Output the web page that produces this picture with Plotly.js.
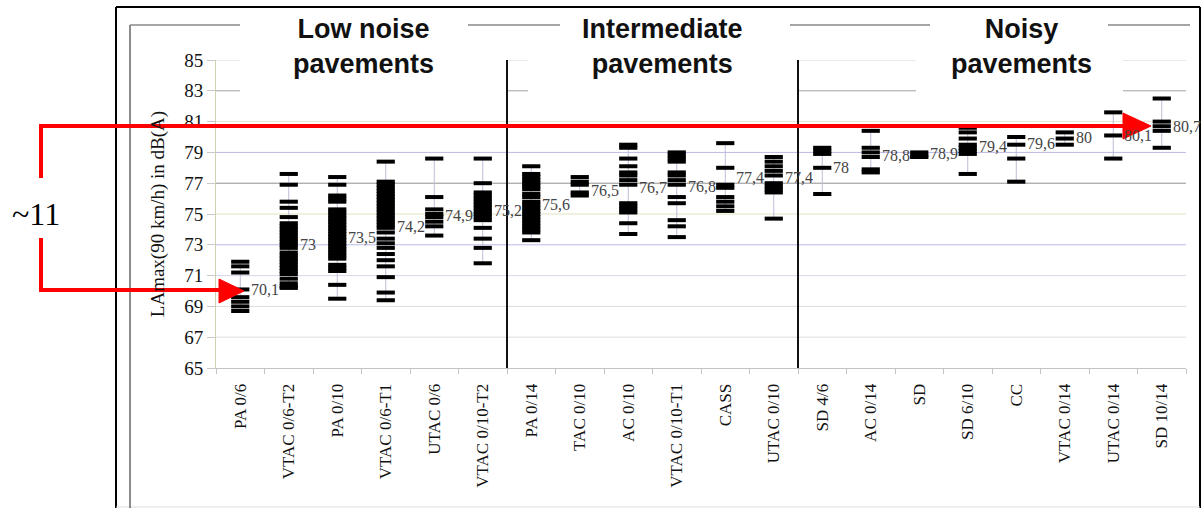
<!DOCTYPE html>
<html>
<head>
<meta charset="utf-8">
<script src="https://cdn.plot.ly/plotly-3.0.1.min.js"></script>
<style>html,body{margin:0;padding:0;background:#fff;}#chart{width:1204px;height:508px;}</style>
</head>
<body>
<div id="chart"></div>
<script>
// ---------- data ----------
const categories = ['PA 0/6','VTAC 0/6-T2','PA 0/10','VTAC 0/6-T1','UTAC 0/6','VTAC 0/10-T2',
  'PA 0/14','TAC 0/10','AC 0/10','VTAC 0/10-T1','CASS','UTAC 0/10',
  'SD 4/6','AC 0/14','SD','SD 6/10','CC','VTAC 0/14','UTAC 0/14','SD 10/14'];

const meanValues = [70.1,73,73.5,74.2,74.9,75.2,75.6,76.5,76.7,76.8,77.4,77.4,78,78.8,78.9,79.4,79.6,80,80.1,80.7];

// individual measurements (dashes), one array per category
const dashValues = [
  [71.9,71.6,71.2,70.1,69.6,69.3,69.0,68.7],
  [77.6,76.9,75.8,75.4,74.8,74.4,74.2,74.0,73.8,73.6,73.4,73.2,73.0,72.8,72.5,72.3,72.1,71.9,71.7,71.5,71.3,71.1,70.8,70.5,70.3,70.2],
  [77.4,76.9,76.2,76.0,75.8,75.3,75.1,74.9,74.7,74.5,74.3,74.1,73.9,73.7,73.5,73.3,73.1,72.9,72.7,72.5,72.3,72.1,71.7,71.5,71.3,70.4,69.5],
  [78.4,77.1,76.9,76.7,76.5,76.3,76.1,75.9,75.7,75.5,75.3,75.1,74.9,74.7,74.5,74.3,74.1,73.8,73.4,73.1,72.8,72.4,72.0,71.6,70.9,69.9,69.4],
  [78.6,76.1,75.3,75.0,74.8,74.5,74.2,73.6],
  [78.6,77.0,76.4,76.2,76.0,75.8,75.6,75.4,75.2,75.0,74.8,74.6,74.1,73.4,72.8,71.8],
  [78.1,77.6,77.4,77.2,77.0,76.8,76.6,76.3,76.1,75.8,75.6,75.4,75.2,75.0,74.8,74.6,74.4,74.2,74.0,73.8,73.3],
  [77.4,77.1,76.9,76.4,76.2],
  [79.5,79.3,78.6,78.1,77.7,77.5,77.2,76.9,75.7,75.5,75.3,75.1,74.4,73.7],
  [79.0,78.8,78.6,78.4,77.7,77.5,77.2,76.9,76.1,75.7,74.6,74.2,73.5],
  [79.6,78.0,76.9,76.7,76.1,75.8,75.5,75.2],
  [78.7,78.4,78.1,77.8,77.5,77.0,76.8,76.6,76.4,74.7],
  [79.3,79.1,78.9,78.0,76.3],
  [80.4,79.3,79.0,78.7,77.9,77.7],
  [79.0,78.8,78.7],
  [80.6,80.3,79.9,79.5,79.3,79.1,78.9,77.6],
  [80.0,79.5,78.6,77.1],
  [80.3,79.9,79.5],
  [81.6,80.1,78.6],
  [82.5,81.0,80.7,80.4,79.3]
];

const groupNames = ['Low noise<br>pavements','Intermediate<br>pavements','Noisy<br>pavements'];
const groupBoundaries = [5.5, 11.5];
const yTickValues = [65,67,69,71,73,75,77,79,81,83,85];
const yTitle = 'LAmax(90 km/h) in dB(A)';
const diffLabel = '~11';

// ---------- styles ----------
const gridColors = {67:'#dcdcdc',69:'#dcdcdc',71:'#d6d6f0',73:'#b8b8e6',75:'#e2e2c4',77:'#909090',79:'#b8b8e6',81:'#e6e6cc',83:'#a0a0a0',85:'#d4d4d4'};
const serif = 'Liberation Serif, Times New Roman, serif';

// pixel -> paper helpers (plot area 216..1186 x 60..368)
const PX = x => (x - 216) / 970;
const PY = y => (368 - y) / 308;

// ---------- traces ----------
const dashX = [], dashY = [];
const whX = [], whY = [];
categories.forEach((c, i) => {
  dashValues[i].forEach(v => { dashX.push(c); dashY.push(v); });
  whX.push(c, c, null);
  whY.push(Math.min(...dashValues[i]), Math.max(...dashValues[i]), null);
});

const traces = [
  { type:'scatter', mode:'lines', x:whX, y:whY, line:{color:'#bcbcd8', width:1}, hoverinfo:'skip', cliponaxis:false },
  { type:'scatter', mode:'markers', x:dashX, y:dashY,
    marker:{symbol:'line-ew', size:13, color:'#000', line:{color:'#000', width:4}}, hoverinfo:'y' }
];

// ---------- shapes ----------
const shapes = [];
function seg(x0,y0,x1,y1,color,width,layer){
  shapes.push({type:'line', xref:'paper', yref:'paper', x0:PX(x0), y0:PY(y0), x1:PX(x1), y1:PY(y1),
    line:{color:color, width:width}, layer:layer||'below'});
}
// outer and inner frames
seg(116,7,1200,7,'#000',2);
seg(116,7,116,510,'#000',2);
seg(1200,7,1200,510,'#000',2);
seg(116,507,1200,507,'#dddddd',1);
seg(130,25,130,510,'#666',1.5);
[[130,240],[468,560],[790,930],[1108,1190]].forEach(s => seg(s[0],25,s[1],25,'#888',1.5));

// horizontal gridlines
const headerGaps = [[216,240],[507,528],[797,916],[1123,1186]];
yTickValues.forEach(v => {
  if (v === 65) return;
  if (v >= 83) {
    headerGaps.forEach(s => shapes.push({type:'line', xref:'paper', yref:'y', x0:PX(s[0]), x1:PX(s[1]), y0:v, y1:v,
      line:{color:gridColors[v], width:1}, layer:'below'}));
  } else {
    shapes.push({type:'line', xref:'paper', yref:'y', x0:0, x1:1, y0:v, y1:v, line:{color:gridColors[v], width:1}, layer:'below'});
  }
});
// group separators
groupBoundaries.forEach(b => shapes.push({type:'line', xref:'x', yref:'paper', x0:b, x1:b, y0:0, y1:1,
  line:{color:'#111', width:2}, layer:'above'}));

// red arrows
function pathPx(pts, close){
  return pts.map((p,k) => (k ? 'L ' : 'M ') + PX(p[0]) + ',' + PY(p[1])).join(' ') + (close ? ' Z' : '');
}
shapes.push({type:'path', xref:'paper', yref:'paper', path:pathPx([[41,178],[41,126],[1126,126]]),
  line:{color:'#ff0000', width:4}, layer:'above'});
shapes.push({type:'path', xref:'paper', yref:'paper', path:pathPx([[1123,113],[1151,126],[1123,139]], true),
  fillcolor:'#ff0000', line:{color:'#ff0000', width:1}, layer:'above'});
shapes.push({type:'path', xref:'paper', yref:'paper', path:pathPx([[41,238],[41,290],[222,290]]),
  line:{color:'#ff0000', width:4}, layer:'above'});
shapes.push({type:'path', xref:'paper', yref:'paper', path:pathPx([[219,279],[244,291],[219,303]], true),
  fillcolor:'#ff0000', line:{color:'#ff0000', width:1}, layer:'above'});

// ---------- annotations ----------
const annotations = [];
categories.forEach((c, i) => {
  annotations.push({x:c, y:meanValues[i], xref:'x', yref:'y', text:String(meanValues[i]).replace('.', ','),
    showarrow:false, xanchor:'left', yanchor:'middle', xshift:9,
    font:{family:serif, size:16, color:'#444'}});
});
const groupCenters = [363, 662, 1021];
groupNames.forEach((g, i) => {
  annotations.push({x:PX(groupCenters[i]), y:PY(46), xref:'paper', yref:'paper', text:g, showarrow:false,
    xanchor:'center', yanchor:'middle', align:'center',
    font:{family:'Liberation Sans, Arial, sans-serif', size:27, color:'#111', weight:'bold'}});
});
annotations.push({x:PX(36), y:PY(214), xref:'paper', yref:'paper', text:diffLabel, showarrow:false,
  xanchor:'center', yanchor:'middle', font:{family:serif, size:32, color:'#000'}});

// ---------- layout ----------
const layout = {
  width:1204, height:508,
  margin:{l:216, r:18, t:60, b:140, pad:0},
  paper_bgcolor:'#fff', plot_bgcolor:'#fff',
  showlegend:false,
  xaxis:{type:'category', categoryorder:'array', categoryarray:categories, range:[-0.5,19.5],
    tickangle:-90, ticks:'outside', tickson:'boundaries', ticklen:5, tickcolor:'#c4c4c4',
    showline:true, linecolor:'#c4c4c4', linewidth:1, showgrid:false, zeroline:false,
    ticklabelstandoff:8,
    tickfont:{family:serif, size:17, color:'#111'}, automargin:false},
  yaxis:{range:[65,85], tickvals:yTickValues, ticktext:yTickValues.map(String), ticks:'outside', ticklen:8,
    tickcolor:'#c8c8c8', showline:true, linecolor:'#d0d0b4', linewidth:1, showgrid:false, zeroline:false,
    tickfont:{family:serif, size:19, color:'#111'}, automargin:false,
    title:{text:yTitle, font:{family:serif, size:19, color:'#111'}, standoff:14}},
  shapes:shapes,
  annotations:annotations
};

Plotly.newPlot('chart', traces, layout, {displayModeBar:false, staticPlot:true});
</script>
</body>
</html>
